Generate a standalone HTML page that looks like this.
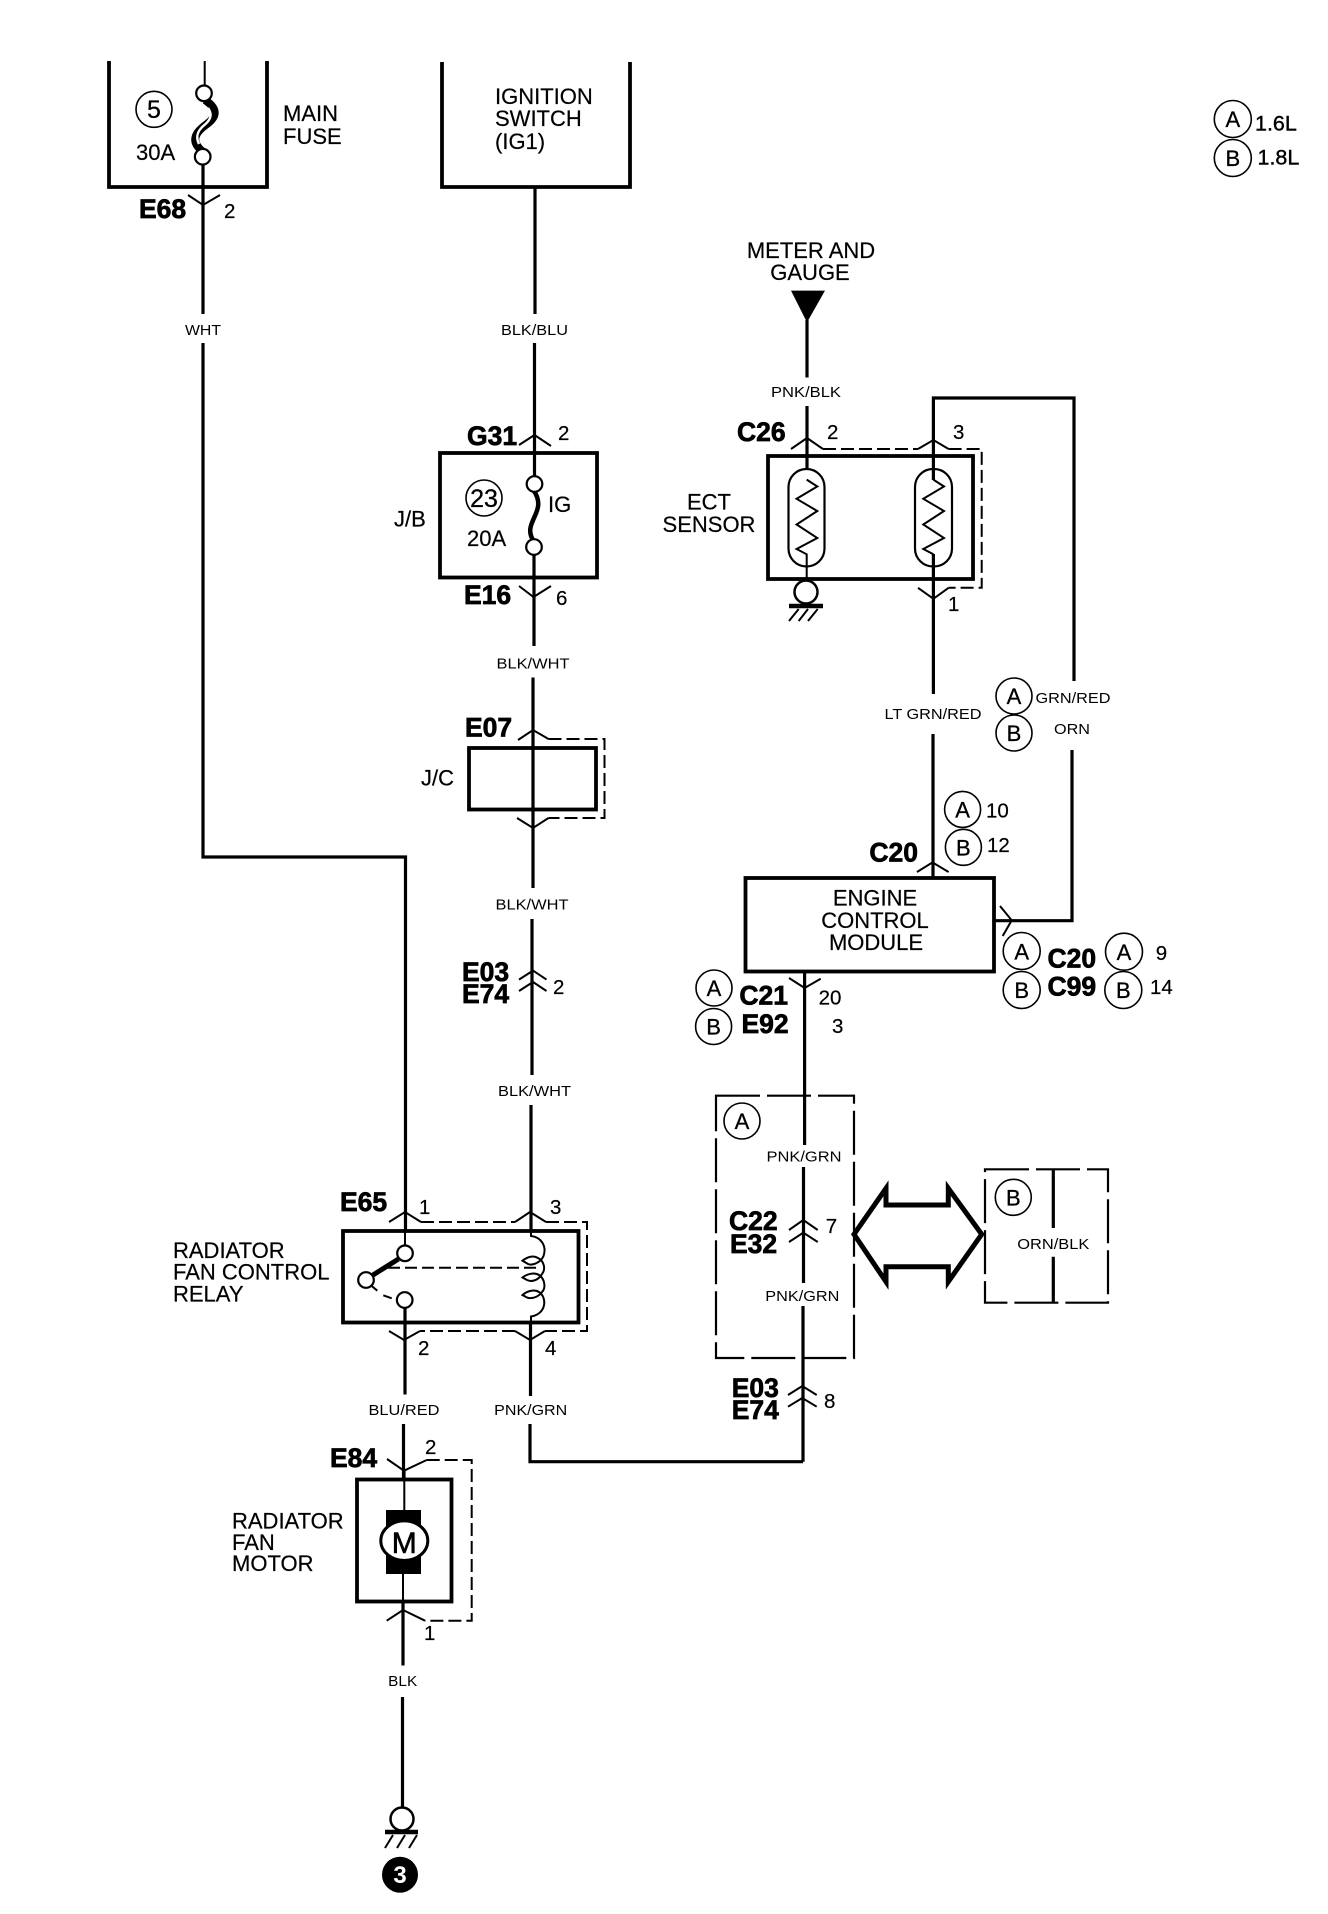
<!DOCTYPE html>
<html>
<head>
<meta charset="utf-8">
<style>
html,body{margin:0;padding:0;background:#fff;width:1328px;height:1914px;overflow:hidden}
svg{display:block}
text{font-family:"Liberation Sans",sans-serif;fill:#000}
.t{font-size:22px;stroke:#000;stroke-width:.2}
.b{font-size:26.5px;font-weight:bold;stroke:#000;stroke-width:.7}
.w{font-size:15px;text-anchor:middle}
.n{font-size:20.5px;stroke:#000;stroke-width:.2}
.c{font-size:22px;text-anchor:middle;stroke:#000;stroke-width:.3}
.m{text-anchor:middle}
.wire{fill:none;stroke:#000;stroke-width:3.2}
.box{fill:none;stroke:#000;stroke-width:3.8}
.thin{fill:none;stroke:#000;stroke-width:2}
.dash{fill:none;stroke:#000;stroke-width:2;stroke-dasharray:13 5}
.ldash{fill:none;stroke:#000;stroke-width:2.2;stroke-dasharray:44 7}
.o{fill:#fff;stroke:#000;stroke-width:2.2}
.r{fill:#fff;stroke:#000;stroke-width:1.6}
</style>
</head>
<body>
<svg width="1328" height="1914" viewBox="0 0 1328 1914" xmlns="http://www.w3.org/2000/svg">
<rect width="1328" height="1914" fill="#fff"/>

<!-- MAIN FUSE -->
<path class="box" d="M109,61V187H267V61"/>
<path class="thin" d="M204.700,61V88"/>
<path d="M205,100C220,110 215,118 207,124C197,131 189,140 202,151" fill="none" stroke="#000" stroke-width="8"/>
<path d="M208,108C213,115 210,120 205,124.500C198,130 195,136 199,144" fill="none" stroke="#fff" stroke-width="2.400"/>
<circle class="o" cx="204" cy="93.300" r="7.800"/>
<circle class="o" cx="202.700" cy="156.700" r="7.800"/>
<path class="wire" d="M203,164V314M203,343V857H405.500V1231"/>
<circle class="r" cx="154" cy="109.300" r="18"/>
<text class="c" x="154" y="118" style="font-size:25px">5</text>
<text class="t" x="136" y="160">30A</text>
<text class="t" x="283" y="121">MAIN</text>
<text class="t" x="283" y="144">FUSE</text>
<text class="b" x="139" y="218">E68</text>
<path class="thin" d="M188,195L203,205L220,195"/>
<text class="n" x="224" y="218">2</text>
<text class="w" x="203" y="335" textLength="36" lengthAdjust="spacingAndGlyphs">WHT</text>

<!-- IGNITION SWITCH -->
<path class="box" d="M442,62V187H630V62"/>
<path class="wire" d="M535,187V314M534.500,343V476"/>
<text class="t" x="495" y="104">IGNITION</text>
<text class="t" x="495" y="126">SWITCH</text>
<text class="t" x="495" y="149">(IG1)</text>
<text class="w" x="534.500" y="335" textLength="67" lengthAdjust="spacingAndGlyphs">BLK/BLU</text>

<!-- G31 / JB -->
<text class="b" x="467" y="445">G31</text>
<path class="thin" d="M519,445L534.500,435L551,446"/>
<text class="n" x="558" y="440">2</text>
<rect class="box" x="440" y="453" width="157" height="124.500"/>
<path d="M534,491C548,512 522,522 533,540" fill="none" stroke="#000" stroke-width="4.500"/>
<circle class="o" cx="534.500" cy="484" r="7.800"/>
<circle class="o" cx="534" cy="547" r="7.800"/>
<circle class="r" cx="484" cy="498" r="18"/>
<text class="c" x="484" y="507" style="font-size:25px">23</text>
<text class="t" x="467" y="546">20A</text>
<text class="t" x="548" y="512">IG</text>
<text class="t" x="394" y="526.500">J/B</text>
<text class="b" x="464" y="604">E16</text>
<path class="thin" d="M519,586L533.500,597L551,586"/>
<text class="n" x="556" y="605">6</text>
<path class="wire" d="M534,555V646M533,677.500V888M532,919V1075M531,1105V1231"/>
<text class="w" x="533" y="668.600" textLength="73" lengthAdjust="spacingAndGlyphs">BLK/WHT</text>

<!-- E07 J/C -->
<text class="b" x="465" y="736.700">E07</text>
<path class="thin" d="M518,740L533,730L548.500,739"/>
<path class="dash" d="M548.500,739H604.500V818H548.500"/>
<rect class="box" x="469" y="748" width="127" height="61.500"/>
<path class="thin" d="M517,818L533,828L548.500,818"/>
<text class="t" x="421" y="785.700">J/C</text>
<text class="w" x="532" y="909.400" textLength="73" lengthAdjust="spacingAndGlyphs">BLK/WHT</text>

<!-- E03 E74 -->
<text class="b" x="462" y="981">E03</text>
<text class="b" x="462" y="1003">E74</text>
<path class="thin" d="M519,979.600L533,970.600L546.500,979.600M519,991L533,982L546.500,991"/>
<text class="n" x="553" y="994">2</text>
<text class="w" x="534.500" y="1096" textLength="73" lengthAdjust="spacingAndGlyphs">BLK/WHT</text>

<!-- E65 relay -->
<text class="b" x="340" y="1210.800">E65</text>
<path class="thin" d="M389,1222L405,1212L421,1222"/>
<path class="thin" d="M515,1222L530,1212L546,1222"/>
<path class="dash" d="M421,1222H515M546,1222H587V1331H545M515,1331H420"/>
<path class="thin" d="M389,1331L404,1340L420,1331"/>
<path class="thin" d="M515,1331L530,1340L545,1331"/>
<text class="n" x="419" y="1214">1</text>
<text class="n" x="550" y="1214">3</text>
<text class="n" x="418" y="1355">2</text>
<text class="n" x="545" y="1355">4</text>
<rect class="box" x="343" y="1231" width="235.500" height="91.500"/>
<text class="t" x="173" y="1258">RADIATOR</text>
<text class="t" x="173" y="1279.600">FAN CONTROL</text>
<text class="t" x="173" y="1301.700">RELAY</text>
<path d="M373,1275L398.500,1259" stroke="#000" stroke-width="5" fill="none"/>
<path class="thin" d="M371.700,1286L377.300,1290.700M383.300,1295.300L391.700,1298.300"/>
<path class="thin" d="M388,1267.700H538" stroke-dasharray="12 5"/>
<circle class="o" cx="405" cy="1253.300" r="7.800"/>
<circle class="o" cx="366" cy="1280" r="7.800"/>
<circle class="o" cx="404.700" cy="1300" r="7.800"/>
<path class="thin" d="M405,1245V1231"/>
<path class="wire" d="M405,1308V1394.500M403.500,1424V1480"/>
<path class="thin" d="M531,1231V1236C541,1237 547,1246 543.500,1256C541,1262 533,1266 528,1264L522.500,1260.700C527,1257 533,1255 538,1258C544,1261 546,1269 542,1274C538,1281 531,1282 527,1280L522.500,1277.500C527,1274 534,1272 539,1275C545,1279 546,1288 542,1292C538,1298 530,1299 527,1297.500L522.500,1295C527,1291 534,1289 539,1292C547,1297 547,1314 531,1316.500V1322"/>
<path class="wire" d="M530.500,1322V1396M530,1424V1461.700H803"/>
<text class="w" x="404" y="1414.800" textLength="71" lengthAdjust="spacingAndGlyphs">BLU/RED</text>
<text class="w" x="530.700" y="1414.800" textLength="73" lengthAdjust="spacingAndGlyphs">PNK/GRN</text>

<!-- E84 motor -->
<text class="b" x="330" y="1467">E84</text>
<path class="thin" d="M387,1459L404,1470.700L426.700,1460"/>
<path class="dash" d="M426.700,1460H471.700V1620.700H425"/>
<path class="thin" d="M386.700,1620.700L403,1610L425,1620.700"/>
<text class="n" x="425" y="1454">2</text>
<text class="n" x="424" y="1640">1</text>
<rect class="box" x="357" y="1479.500" width="94.500" height="122"/>
<path class="thin" d="M404.300,1480V1510M403,1574V1602"/>
<path class="wire" d="M404,1470V1480M403,1602V1665.500M402.500,1697V1808"/>
<rect x="386" y="1510" width="35" height="64" fill="#000"/>
<ellipse cx="404.300" cy="1540.700" rx="23.500" ry="19.800" fill="#fff" stroke="#000" stroke-width="3"/>
<text class="m" x="404.300" y="1553" style="font-size:30px;stroke:#000;stroke-width:.6">M</text>
<text class="t" x="232" y="1528.400">RADIATOR</text>
<text class="t" x="232" y="1550">FAN</text>
<text class="t" x="232" y="1571">MOTOR</text>
<text class="w" x="402.700" y="1686" textLength="29" lengthAdjust="spacingAndGlyphs">BLK</text>
<circle class="o" cx="402" cy="1819" r="11.500" style="stroke-width:2.500"/>
<path d="M385,1832H418" stroke="#000" stroke-width="4.500"/>
<path class="thin" d="M393,1835L385,1848M405,1835L397,1848M417,1835L409,1848"/>
<circle cx="400" cy="1874.700" r="18" fill="#000"/>
<text class="m" x="400" y="1883" style="font-size:24px;font-weight:bold;fill:#fff">3</text>

<!-- legend -->
<circle class="r" cx="1232.800" cy="119" r="18.500"/>
<text class="c" x="1232.800" y="127">A</text>
<circle class="r" cx="1232.800" cy="158" r="18.500"/>
<text class="c" x="1232.800" y="166">B</text>
<text class="n" x="1255" y="130.600" style="font-size:21.500px;stroke-width:.4">1.6L</text>
<text class="n" x="1257.500" y="164.500" style="font-size:21.500px;stroke-width:.4">1.8L</text>

<!-- METER AND GAUGE -->
<text class="t m" x="811" y="258">METER AND</text>
<text class="t m" x="810" y="280">GAUGE</text>
<path d="M791,290.600H825L807,322.400Z" fill="#000"/>
<path class="wire" d="M807,320V377.500M807,406V480"/>
<text class="w" x="806" y="397" textLength="70" lengthAdjust="spacingAndGlyphs">PNK/BLK</text>

<!-- ECT SENSOR -->
<text class="b" x="737" y="441">C26</text>
<path class="thin" d="M791,449L807,438L823,449"/>
<path class="thin" d="M918,449L933.400,440L948.600,449"/>
<path class="dash" d="M823,449H918M948.600,449H981.700V587.800H948.600"/>
<path class="thin" d="M918,587.800L933.400,598.800L948.600,587.800"/>
<text class="n" x="827" y="439">2</text>
<text class="n" x="953" y="439">3</text>
<text class="n" x="948" y="611">1</text>
<rect class="box" x="768" y="456" width="205" height="123"/>
<rect x="788.500" y="469" width="36" height="97.500" rx="18" class="o"/>
<rect x="915" y="469" width="37" height="97.500" rx="18" class="o"/>
<path class="thin" d="M806.700,479.600L817.300,486.500L796.600,498.800L817.300,511L796.600,524.500L817.300,538L796.600,549L806.700,554.300V582"/>
<path class="thin" d="M933.400,479.600L944,486.500L923.300,498.800L944,511L923.300,524.500L944,538L923.300,549L933.400,554.300"/>
<path class="wire" d="M933.400,554V694M933,734V877"/>
<path class="wire" d="M933.400,480V398H1074V681M1072,750V920.700H994"/>
<circle class="o" cx="806" cy="592" r="11.500" style="stroke-width:2.500"/>
<path d="M789,606H823" stroke="#000" stroke-width="4.500"/>
<path class="thin" d="M798.700,609L789,621M808,609L798.700,621M817.700,609L808,621"/>
<text class="t m" x="709" y="509.400">ECT</text>
<text class="t m" x="709" y="532">SENSOR</text>

<text class="w" x="933" y="718.800" textLength="97" lengthAdjust="spacingAndGlyphs">LT GRN/RED</text>
<circle class="r" cx="1014" cy="696" r="18"/>
<text class="c" x="1014" y="704">A</text>
<circle class="r" cx="1014" cy="733" r="18"/>
<text class="c" x="1014" y="741">B</text>
<text class="w" x="1073" y="703" textLength="75" lengthAdjust="spacingAndGlyphs">GRN/RED</text>
<text class="w" x="1072" y="734" textLength="36" lengthAdjust="spacingAndGlyphs">ORN</text>

<circle class="r" cx="962.600" cy="809.400" r="18"/>
<text class="c" x="962.600" y="817.500">A</text>
<text class="n" x="986" y="817.500">10</text>
<circle class="r" cx="963.400" cy="847.300" r="18"/>
<text class="c" x="963.400" y="855.400">B</text>
<text class="n" x="987" y="852">12</text>

<!-- ECM -->
<text class="b" x="869.400" y="861.600">C20</text>
<path class="thin" d="M917,872L932.500,862.400L948.600,872"/>
<rect class="box" x="745.500" y="878" width="248.500" height="93.500"/>
<text class="t m" x="875" y="905.700">ENGINE</text>
<text class="t m" x="875" y="927.800">CONTROL</text>
<text class="t m" x="876" y="950">MODULE</text>
<path class="thin" d="M1000,906L1011.700,920.300L1002.700,936"/>
<circle class="r" cx="1021.700" cy="951" r="18.500"/>
<text class="c" x="1021.700" y="959.500">A</text>
<circle class="r" cx="1021.700" cy="990" r="18.500"/>
<text class="c" x="1021.700" y="998">B</text>
<text class="b" x="1047.500" y="967.500">C20</text>
<text class="b" x="1047.500" y="995.500">C99</text>
<circle class="r" cx="1124" cy="951.700" r="18.500"/>
<text class="c" x="1124" y="960">A</text>
<circle class="r" cx="1123.300" cy="990" r="18.500"/>
<text class="c" x="1123.300" y="998">B</text>
<text class="n" x="1155.700" y="960">9</text>
<text class="n" x="1150" y="994">14</text>

<path class="thin" d="M789,978L804.600,988L820.700,978.800"/>
<circle class="r" cx="714" cy="988" r="18"/>
<text class="c" x="714" y="996">A</text>
<circle class="r" cx="713.600" cy="1026.500" r="18"/>
<text class="c" x="713.600" y="1034.500">B</text>
<text class="b" x="739.400" y="1004.500">C21</text>
<text class="b" x="741.500" y="1033">E92</text>
<text class="n" x="818.600" y="1004.500">20</text>
<text class="n" x="832" y="1033">3</text>
<path class="wire" d="M804.600,971V1145M803.500,1167V1283M803,1306V1461.700"/>

<!-- A dashed -->
<path class="ldash" d="M716,1095.700H854V1358H716Z"/>
<circle class="r" cx="742" cy="1121" r="18"/>
<text class="c" x="742" y="1129">A</text>
<text class="w" x="804" y="1161.700" textLength="75" lengthAdjust="spacingAndGlyphs">PNK/GRN</text>
<text class="w" x="802.300" y="1301" textLength="74" lengthAdjust="spacingAndGlyphs">PNK/GRN</text>
<text class="b" x="729" y="1230">C22</text>
<text class="b" x="730" y="1253">E32</text>
<path class="thin" d="M789,1230L803.300,1220L817.700,1230M789,1242L803.300,1232.700L817.700,1242"/>
<text class="n" x="825.700" y="1233">7</text>
<text class="b" x="731.700" y="1397">E03</text>
<text class="b" x="731.700" y="1419">E74</text>
<path class="thin" d="M788,1395L802.300,1386L816.700,1395M788,1406.700L802.300,1398L816.700,1406.700"/>
<text class="n" x="824" y="1408">8</text>

<!-- double arrow -->
<path d="M854,1234.300L886,1188.300V1205H948.300V1188.300L981.700,1234.300L948.300,1281.700V1266.700H886V1281.700Z" fill="#fff" stroke="#000" stroke-width="5"/>

<!-- B dashed -->
<path class="ldash" d="M985,1169.300H1108V1302.700H985Z"/>
<circle class="r" cx="1013.300" cy="1197.300" r="18"/>
<text class="c" x="1013.300" y="1205.500">B</text>
<path class="wire" d="M1053.300,1169.300V1228M1053.300,1256.700V1302.700"/>
<text class="w" x="1053.300" y="1249" textLength="72" lengthAdjust="spacingAndGlyphs">ORN/BLK</text>
</svg>
</body>
</html>
